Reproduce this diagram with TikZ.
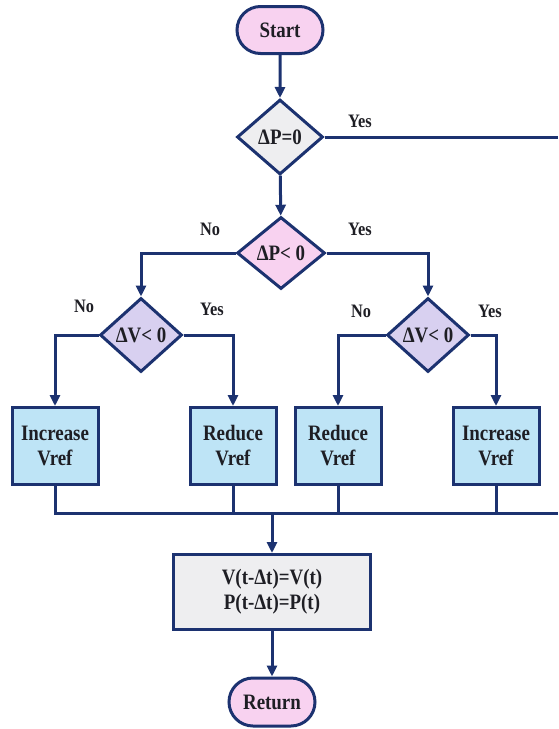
\documentclass[tikz,border=0pt]{standalone}
\usepackage{fontspec}
\setmainfont[FakeStretch=0.86]{Liberation Serif}
\usetikzlibrary{arrows.meta,shapes.geometric,shapes.misc}

\definecolor{navy}{RGB}{28,50,112}
\definecolor{inkgray}{RGB}{30,30,36}
\definecolor{pinkfill}{RGB}{248,210,240}
\definecolor{grayfill}{RGB}{238,238,240}
\definecolor{lilacfill}{RGB}{216,208,240}
\definecolor{bluefill}{RGB}{190,228,246}

\tikzset{
  base/.style={draw=navy, line width=3pt, text=inkgray,
    font=\fontsize{22}{25}\selectfont\bfseries, align=center, inner sep=0pt},
  terminal/.style={base, rounded rectangle, fill=pinkfill,
    minimum width=86pt, minimum height=47pt},
  decision/.style={base, diamond, minimum width=86pt, minimum height=75pt},
  process/.style={base, rectangle, fill=bluefill,
    minimum width=86pt, minimum height=77pt},
  flow/.style={draw=navy, line width=3pt},
  answer/.style={text=inkgray, font=\fontsize{19}{21}\selectfont\bfseries},
}

\begin{document}
\begin{tikzpicture}[x=1pt, y=-1pt, >={Triangle[length=11pt,width=10pt]}]
  \useasboundingbox (0,0) rectangle (558,729);

  % start and first test
  \node[terminal] (start) at (280,30) {Start};
  \node[decision, fill=grayfill] (dp0) at (280,137) {ΔP=0};
  \node[decision, fill=pinkfill, minimum width=88pt, minimum height=72pt]
    (dpl) at (281,253) {ΔP< 0};

  % voltage tests
  \node[decision, fill=lilacfill, minimum width=82pt, minimum height=74pt]
    (dvl) at (141,335) {ΔV< 0};
  \node[decision, fill=lilacfill, minimum width=82pt, minimum height=74pt]
    (dvr) at (428,335) {ΔV< 0};

  % actions on Vref
  \node[process] (inc1) at (55,446)  {Increase\\Vref};
  \node[process] (red1) at (233,446) {Reduce\\Vref};
  \node[process] (red2) at (338,446) {Reduce\\Vref};
  \node[process] (inc2) at (496,446) {Increase\\Vref};

  % update and return
  \node[process, fill=grayfill, minimum width=197pt, minimum height=75pt]
    (mem) at (272,592) {V(t-Δt)=V(t)\\P(t-Δt)=P(t)};
  \node[terminal, minimum height=48pt] (ret) at (272,702) {Return};

  % free ends at the right border
  \coordinate (edgeT) at (558,137);
  \coordinate (busR) at (558,513);

  % connectors
  \draw[flow,->] (start) -- (dp0);
  \draw[flow] (dp0.east) -- (edgeT);
  \draw[flow,->] (dp0) -- (dpl);
  \draw[flow,->] (dpl.west) -| (dvl.north);
  \draw[flow,->] (dpl.east) -| (dvr.north);
  \draw[flow,->] (dvl.west) -| (inc1.north);
  \draw[flow,->] (dvl.east) -| (red1.north);
  \draw[flow,->] (dvr.west) -| (red2.north);
  \draw[flow,->] (dvr.east) -| (inc2.north);

  % collecting bus
  \draw[flow] (inc1.south) |- (busR);
  \draw[flow] (red1.south) -- (red1.south |- busR);
  \draw[flow] (red2.south) -- (red2.south |- busR);
  \draw[flow] (inc2.south) -- (inc2.south |- busR);
  \draw[flow,->] (mem.north |- busR) -- (mem.north);
  \draw[flow,->] (mem) -- (ret);

  % branch labels
  \node[answer] (y0) at (360,121) {Yes};
  \node[answer] (n1) at (210,229) {No};
  \node[answer] (y1) at (360,229) {Yes};
  \node[answer] (n2) at (84,306)  {No};
  \node[answer] (y2) at (212,309) {Yes};
  \node[answer] (n3) at (361,311) {No};
  \node[answer] (y3) at (490,311) {Yes};
\end{tikzpicture}
\end{document}
